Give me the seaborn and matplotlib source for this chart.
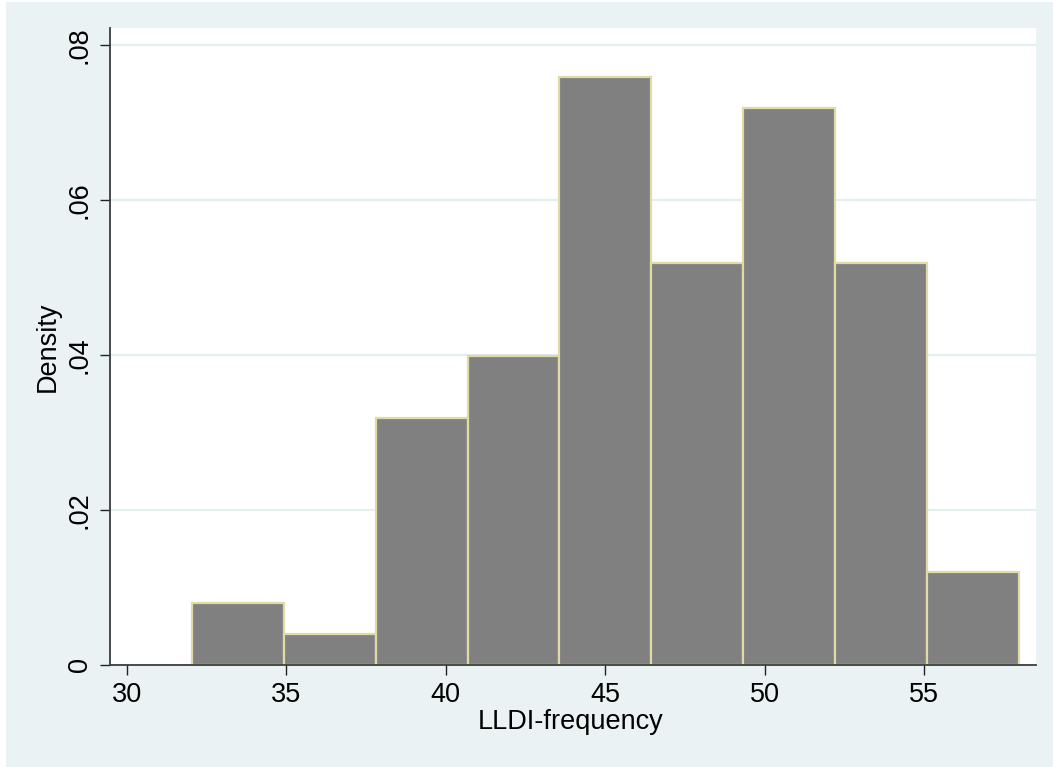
import numpy as np
import pandas as pd
import matplotlib
matplotlib.use("Agg")
import matplotlib.pyplot as plt
import seaborn as sns
from matplotlib.patches import Rectangle

# ---- data ----
bin_start = 32.05
bin_width = 2.88
counts = [2, 1, 8, 10, 19, 13, 18, 13, 3]
x_ticks = [30, 35, 40, 45, 50, 55]
y_ticks = [0, 0.02, 0.04, 0.06, 0.08]
y_tick_labels = ["0", ".02", ".04", ".06", ".08"]
x_label = "LLDI-frequency"
y_label = "Density"

edges = bin_start + bin_width * np.arange(len(counts) + 1)
centers = (edges[:-1] + edges[1:]) / 2
df = pd.DataFrame({"LLDI": centers, "n": counts})

sns.set_theme(style="white")
plt.rcParams['font.family'] = ['Liberation Sans', 'DejaVu Sans']

W, H = 1053, 767
fig = plt.figure(figsize=(W / 100, H / 100), dpi=100, facecolor='white')
fig.patches.append(Rectangle((6 / W, 0), 1 - 6 / W, 1 - 2 / H,
                             transform=fig.transFigure, facecolor='#EAF2F3',
                             edgecolor='none', zorder=-10))
ax = fig.add_axes([110 / W, 102 / H, 926 / W, 637 / H])
ax.set_facecolor('white')

sns.histplot(data=df, x="LLDI", weights="n", bins=len(counts),
             binrange=(edges[0], edges[-1]), stat="density",
             color="#808080", edgecolor="#DFDAA6", linewidth=1.6, alpha=1,
             ax=ax)

ax.set_xlim(29.48, 58.51)
ax.set_ylim(0, 0.0822)
ax.set_xticks(x_ticks)
ax.set_xticklabels([str(t) for t in x_ticks])
ax.set_yticks(y_ticks)
ax.set_yticklabels(y_tick_labels, rotation=90, va='center')

ax.set_axisbelow(True)
ax.yaxis.grid(True, color='#E4EDF0', linewidth=1.6)
ax.xaxis.grid(False)
for g in ax.get_ygridlines()[:1]:
    g.set_visible(False)

for s in ['top', 'right']:
    ax.spines[s].set_visible(False)
for s in ['left', 'bottom']:
    ax.spines[s].set_color('#3C3C3C')
    ax.spines[s].set_linewidth(1.3)

fs = 19.5
ax.tick_params(axis='both', which='major', direction='out', length=7.5,
               width=1.0, color='#222222', labelsize=fs, labelcolor='black',
               left=True, bottom=True)
ax.tick_params(axis='x', pad=5)
ax.tick_params(axis='y', pad=5)

ax.set_xlabel(x_label, fontsize=fs, color='black')
ax.set_ylabel(y_label, fontsize=fs, color='black')
ax.xaxis.set_label_coords((571 - 110) / 926, (665 - 709) / 637)
ax.yaxis.set_label_coords((61 - 110) / 926, 0.5)

fig.savefig("out.png", dpi=100, facecolor=fig.get_facecolor())
